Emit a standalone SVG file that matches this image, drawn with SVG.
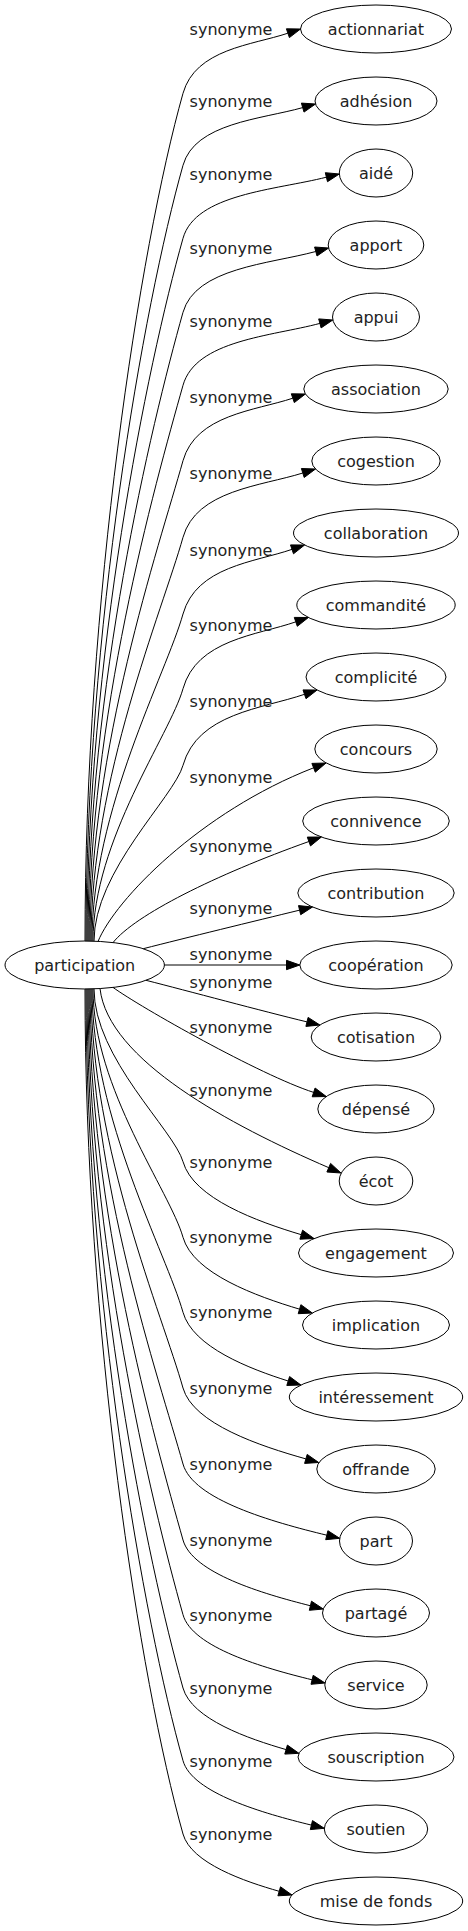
<svg xmlns="http://www.w3.org/2000/svg" width="468" height="1931" viewBox="0 0 468 1931">
<style>
.n ellipse{fill:none;stroke:#000;stroke-width:1}
.n text{font-family:"DejaVu Sans",Verdana,sans-serif;font-size:16px;fill:#222;text-anchor:middle}
.e path{fill:none;stroke:#000;stroke-width:1}
.e polygon{fill:#000;stroke:#000;stroke-width:1}
.e text{font-family:"DejaVu Sans",Verdana,sans-serif;font-size:16px;fill:#222;text-anchor:middle}
</style>
<rect width="468" height="1931" fill="#fff"/>
<g id="edges" class="e">
<path d="M85,941.2 C85,602 139.5,248 183,93.3 C195.5,48.9 252.3,45.1 287.9,33.2"/><polygon points="300.5,29 289.4,37.6 286.4,28.8"/><text x="231" y="35.3">synonyme</text>
<path d="M86,941.2 C86,630.8 143.2,306.8 183,165.3 C194.9,122.9 261.2,119.3 302.7,107.6"/><polygon points="315.5,104 304,112.1 301.4,103.1"/><text x="231" y="107.3">synonyme</text>
<path d="M87,941.2 C87,660 146.9,366.5 183,238.3 C195.5,193.9 275.2,190.1 326.4,177.2"/><polygon points="339.3,174 327.5,181.7 325.3,172.7"/><text x="231" y="180.3">synonyme</text>
<path d="M88,941.2 C88,689.6 150.7,427 183,312.3 C195.5,267.9 268.9,264.1 315.8,251.5"/><polygon points="328.6,248 317,256 314.6,247"/><text x="231" y="254.3">synonyme</text>
<path d="M89,941.2 C89,718.8 154.5,486.7 183,385.3 C195.7,340.2 271.4,336.3 319.9,323.4"/><polygon points="332.8,320 321.1,327.9 318.7,318.9"/><text x="231" y="327.3">synonyme</text>
<path d="M90,941.2 C90,749 158.4,548.3 183,460.7 C196,414.6 255.2,410.7 292.8,398.2"/><polygon points="305.4,394 294.3,402.6 291.3,393.8"/><text x="231" y="402.7">synonyme</text>
<path d="M91,941.2 C91,779.6 162.3,611 183,537.3 C196.3,490.1 261.2,486.1 302.8,473"/><polygon points="315.5,469 304.2,477.5 301.4,468.5"/><text x="231" y="479.3">synonyme</text>
<path d="M92,941.2 C92,810.3 166.2,673.7 183,614 C196.4,566.3 254.7,562.25 292,549.35"/><polygon points="304.6,545 293.5,553.8 290.5,544.9"/><text x="231" y="556">synonyme</text>
<path d="M93,941.2 C93,840.2 170,734.8 183,688.7 C196.8,639.5 257,635.3 295.8,621.85"/><polygon points="308.4,617.5 297.3,626.3 294.3,617.4"/><text x="231" y="630.7">synonyme</text>
<path d="M94,941.2 C94,870.8 174,797.4 183,765.3 C197.6,713.3 262.1,708.8 304.5,694.3"/><polygon points="317.1,690 306,698.7 303,689.9"/><text x="231" y="707.3">synonyme</text>
<path d="M98,941.5 C115,900 200,812 313.6,767.8"/><polygon points="326,763 315.3,772.2 311.9,763.4"/><text x="231" y="783.3">synonyme</text>
<path d="M113,942.6 C135,915 215,875 308.9,841.5"/><polygon points="321.4,837 310.5,845.9 307.3,837.1"/><text x="231" y="852.3">synonyme</text>
<path d="M143.3,948.7 C185,938 255,921 299.6,910.15"/><polygon points="312.5,907 300.7,914.7 298.5,905.6"/><text x="231" y="914.3">synonyme</text>
<path d="M164.4,965 L286.5,965"/><polygon points="299.8,965 286.5,969.67 286.5,960.33"/><text x="231" y="960">synonyme</text>
<path d="M146,980.3 C188,991 262,1011 307,1021.9"/><polygon points="319.9,1025 305.9,1026.4 308.1,1017.4"/><text x="231" y="988.3">synonyme</text>
<path d="M113,987.4 C140,1007 260,1075 313.65,1092.4"/><polygon points="326.3,1096.5 312.2,1096.8 315.1,1088"/><text x="231" y="1032.7">synonyme</text>
<path d="M100,988.5 C108,1060 230,1125 328.8,1167.7"/><polygon points="341,1173 326.9,1172 330.6,1163.4"/><text x="231" y="1095.7">synonyme</text>
<path d="M94,988.8 C94,1058 174.1,1130.2 183,1161.7 C193.4,1198.6 257.7,1221.6 301.3,1234.7"/><polygon points="314,1238.5 299.9,1239.2 302.6,1230.2"/><text x="231" y="1167.7">synonyme</text>
<path d="M93,988.8 C93,1088.2 170.3,1192 183,1237.3 C193.2,1273.6 256.7,1296.3 299.6,1309.2"/><polygon points="312.3,1313 298.2,1313.7 300.9,1304.7"/><text x="231" y="1243.3">synonyme</text>
<path d="M92,988.8 C92,1118.2 166.4,1253.3 183,1312.3 C192.8,1347.2 250.2,1369 288.2,1381"/><polygon points="300.9,1385 286.8,1385.45 289.6,1376.55"/><text x="231" y="1318.3">synonyme</text>
<path d="M91,988.8 C91,1148.5 162.5,1315.2 183,1388 C193.1,1423.8 260.3,1446.1 305.9,1458.9"/><polygon points="318.7,1462.5 304.6,1463.4 307.2,1454.4"/><text x="231" y="1394">synonyme</text>
<path d="M90,988.8 C90,1178.9 158.6,1377.3 183,1464 C193,1499.7 272.3,1522 326.8,1535.2"/><polygon points="339.7,1538.3 325.7,1539.7 327.9,1530.7"/><text x="231" y="1470">synonyme</text>
<path d="M89,988.8 C89,1209.3 154.7,1439.5 183,1540 C192.3,1573.1 263,1593.8 310.4,1605.75"/><polygon points="323.3,1609 309.3,1610.3 311.5,1601.2"/><text x="231" y="1546">synonyme</text>
<path d="M88,988.8 C88,1239.2 150.9,1500.5 183,1614.7 C192.2,1647.5 263.9,1668 312.1,1679.8"/><polygon points="325,1683 311,1684.3 313.2,1675.3"/><text x="231" y="1620.7">synonyme</text>
<path d="M87,988.8 C87,1268.5 147.1,1560.5 183,1688 C191.8,1719.3 249.1,1738.9 286.1,1749.6"/><polygon points="298.9,1753.3 284.8,1754.1 287.4,1745.1"/><text x="231" y="1694">synonyme</text>
<path d="M86,988.8 C86,1297.6 143.4,1619.9 183,1760.7 C192.1,1793.1 263.5,1813.4 311.4,1825.1"/><polygon points="324.3,1828.3 310.3,1829.6 312.5,1820.6"/><text x="231" y="1766.7">synonyme</text>
<path d="M85,988.8 C85,1326.9 139.6,1679.8 183,1834 C191.2,1863.3 245.1,1881.6 279.2,1891.3"/><polygon points="292,1895 277.9,1895.8 280.5,1886.8"/><text x="231" y="1840">synonyme</text>
</g>
<g id="participation" class="n"><ellipse cx="84.7" cy="965" rx="79.7" ry="24"/><text x="84.7" y="970.6">participation</text></g>
<g id="actionnariat" class="n"><ellipse cx="376" cy="29" rx="75.5" ry="24"/><text x="376" y="34.6">actionnariat</text></g>
<g id="adhesion" class="n"><ellipse cx="376" cy="101" rx="61" ry="24"/><text x="376" y="106.6">adhésion</text></g>
<g id="aide" class="n"><ellipse cx="376" cy="173" rx="36.7" ry="24"/><text x="376" y="178.6">aidé</text></g>
<g id="apport" class="n"><ellipse cx="376" cy="245" rx="47.8" ry="24"/><text x="376" y="250.6">apport</text></g>
<g id="appui" class="n"><ellipse cx="376" cy="317" rx="43.5" ry="24"/><text x="376" y="322.6">appui</text></g>
<g id="association" class="n"><ellipse cx="376" cy="389" rx="72.2" ry="24"/><text x="376" y="394.6">association</text></g>
<g id="cogestion" class="n"><ellipse cx="376" cy="461" rx="64.2" ry="24"/><text x="376" y="466.6">cogestion</text></g>
<g id="collaboration" class="n"><ellipse cx="376" cy="533" rx="82.5" ry="24"/><text x="376" y="538.6">collaboration</text></g>
<g id="commandite" class="n"><ellipse cx="376" cy="605" rx="79.2" ry="24"/><text x="376" y="610.6">commandité</text></g>
<g id="complicite" class="n"><ellipse cx="376" cy="677" rx="70" ry="24"/><text x="376" y="682.6">complicité</text></g>
<g id="concours" class="n"><ellipse cx="376" cy="749" rx="61.2" ry="24"/><text x="376" y="754.6">concours</text></g>
<g id="connivence" class="n"><ellipse cx="376" cy="821" rx="73.3" ry="24"/><text x="376" y="826.6">connivence</text></g>
<g id="contribution" class="n"><ellipse cx="376" cy="893" rx="78.2" ry="24"/><text x="376" y="898.6">contribution</text></g>
<g id="cooperation" class="n"><ellipse cx="376" cy="965" rx="76.2" ry="24"/><text x="376" y="970.6">coopération</text></g>
<g id="cotisation" class="n"><ellipse cx="376" cy="1037" rx="64.8" ry="24"/><text x="376" y="1042.6">cotisation</text></g>
<g id="depense" class="n"><ellipse cx="376" cy="1109" rx="58.2" ry="24"/><text x="376" y="1114.6">dépensé</text></g>
<g id="ecot" class="n"><ellipse cx="376" cy="1181" rx="36.8" ry="24"/><text x="376" y="1186.6">écot</text></g>
<g id="engagement" class="n"><ellipse cx="376" cy="1253" rx="77.5" ry="24"/><text x="376" y="1258.6">engagement</text></g>
<g id="implication" class="n"><ellipse cx="376" cy="1325" rx="73.5" ry="24"/><text x="376" y="1330.6">implication</text></g>
<g id="interessement" class="n"><ellipse cx="376" cy="1397" rx="86.7" ry="24"/><text x="376" y="1402.6">intéressement</text></g>
<g id="offrande" class="n"><ellipse cx="376" cy="1469" rx="59.2" ry="24"/><text x="376" y="1474.6">offrande</text></g>
<g id="part" class="n"><ellipse cx="376" cy="1541" rx="36.5" ry="24"/><text x="376" y="1546.6">part</text></g>
<g id="partage" class="n"><ellipse cx="376" cy="1613" rx="53.5" ry="24"/><text x="376" y="1618.6">partagé</text></g>
<g id="service" class="n"><ellipse cx="376" cy="1685" rx="51.2" ry="24"/><text x="376" y="1690.6">service</text></g>
<g id="souscription" class="n"><ellipse cx="376" cy="1757" rx="78" ry="24"/><text x="376" y="1762.6">souscription</text></g>
<g id="soutien" class="n"><ellipse cx="376" cy="1829" rx="51.7" ry="24"/><text x="376" y="1834.6">soutien</text></g>
<g id="mise-de-fonds" class="n"><ellipse cx="376" cy="1901" rx="86.7" ry="24"/><text x="376" y="1906.6">mise de fonds</text></g>
</svg>
